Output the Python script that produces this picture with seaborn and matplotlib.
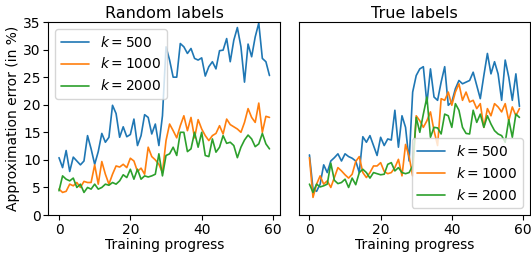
import numpy as np
import pandas as pd
import matplotlib
matplotlib.use("Agg")
import matplotlib.pyplot as plt
import seaborn as sns

steps = list(range(60))
k_labels = ["$k = 500$", "$k = 1000$", "$k = 2000$"]

rand_k500 = [10.4, 8.6, 11.7, 7.9, 10.5, 9.8, 9.1, 9.8, 14.4, 12.0,
             9.2, 11.5, 14.8, 13.2, 14.1, 19.9, 18.4, 14.1, 16.0, 14.2,
             14.6, 17.4, 12.6, 14.4, 18.2, 17.7, 14.7, 16.5, 12.6, 18.0,
             30.5, 28.1, 25.0, 25.0, 31.1, 30.5, 29.3, 30.2, 28.4, 28.1,
             28.5, 25.2, 26.9, 27.8, 26.5, 29.8, 29.9, 32.0, 27.8, 31.7,
             34.0, 30.5, 24.1, 31.0, 28.7, 32.3, 34.8, 28.4, 27.8, 25.3]
rand_k1000 = [4.7, 4.1, 4.3, 5.6, 5.3, 5.9, 5.0, 6.1, 5.9, 5.9,
              9.1, 5.6, 9.7, 7.4, 5.6, 7.4, 8.9, 8.7, 9.2, 8.6,
              10.3, 9.8, 7.9, 8.5, 7.4, 12.3, 10.6, 10.0, 9.2, 7.7,
              13.5, 16.5, 15.3, 14.0, 16.2, 18.0, 15.3, 17.7, 14.0, 17.3,
              15.6, 14.4, 13.5, 14.4, 14.8, 16.2, 14.7, 17.4, 16.4, 16.0,
              15.6, 15.0, 16.8, 19.3, 17.7, 16.8, 20.3, 15.0, 17.9, 17.7]
rand_k2000 = [4.4, 7.1, 6.5, 6.2, 6.7, 5.0, 5.6, 4.1, 5.0, 4.7,
              5.6, 4.7, 5.0, 5.6, 5.4, 5.9, 5.6, 6.2, 7.3, 6.8,
              8.3, 6.5, 8.3, 6.5, 7.1, 6.9, 7.1, 7.4, 11.1, 7.1,
              10.8, 11.1, 12.3, 10.8, 15.0, 15.0, 11.5, 12.0, 15.0, 12.3,
              15.0, 10.8, 10.6, 13.8, 11.4, 12.3, 14.4, 13.0, 13.2, 12.6,
              10.4, 12.3, 13.6, 14.5, 13.8, 12.4, 12.9, 14.8, 12.9, 12.0]

true_k500 = [10.9, 4.7, 4.3, 5.6, 9.1, 7.7, 9.8, 10.4, 11.1, 9.8,
             11.1, 10.6, 10.3, 9.8, 7.7, 14.2, 13.2, 14.4, 12.6, 10.8,
             14.1, 12.6, 13.8, 13.6, 19.0, 12.3, 18.0, 15.9, 9.8, 22.3,
             25.3, 26.5, 26.9, 20.2, 26.5, 21.4, 20.8, 24.1, 26.9, 19.9,
             20.5, 22.9, 24.4, 23.8, 24.1, 24.4, 25.9, 23.5, 21.1, 25.3,
             29.3, 25.6, 27.8, 25.6, 20.8, 28.1, 25.0, 20.8, 25.6, 19.7]
true_k1000 = [10.4, 3.2, 5.6, 7.1, 5.6, 6.2, 5.0, 6.8, 8.6, 8.0,
              7.3, 6.7, 7.4, 9.7, 10.6, 7.7, 6.8, 7.7, 8.9, 8.9,
              9.5, 7.9, 7.5, 7.7, 8.6, 10.1, 7.1, 12.8, 10.6, 7.1,
              18.0, 17.1, 15.9, 17.1, 18.7, 15.3, 12.6, 21.1, 20.8, 22.3,
              19.9, 22.3, 23.8, 20.8, 22.3, 20.5, 20.8, 19.3, 20.2, 15.9,
              19.3, 18.0, 20.2, 19.6, 18.7, 20.2, 17.1, 19.6, 18.0, 19.3]
true_k2000 = [5.6, 4.1, 5.6, 5.1, 5.3, 5.6, 9.4, 6.3, 5.7, 5.9,
              6.5, 5.0, 6.7, 5.5, 7.7, 8.3, 7.7, 6.7, 7.7, 7.5,
              7.3, 7.4, 9.2, 9.5, 8.0, 8.6, 7.7, 7.5, 7.7, 8.9,
              17.7, 15.0, 18.3, 21.4, 14.1, 15.9, 15.8, 14.7, 18.3, 18.0,
              15.9, 20.2, 19.0, 15.9, 14.8, 14.7, 19.0, 16.8, 18.3, 15.9,
              18.0, 16.5, 15.3, 14.7, 14.4, 13.2, 17.3, 14.1, 18.3, 17.7]


def make_df(series):
    frames = []
    for lab, vals in zip(k_labels, series):
        frames.append(pd.DataFrame({"step": steps, "err": vals, "k": lab}))
    return pd.concat(frames, ignore_index=True)


df_rand = make_df([rand_k500, rand_k1000, rand_k2000])
df_true = make_df([true_k500, true_k1000, true_k2000])

sns.set_style("ticks")
plt.rcParams["font.family"] = ["DejaVu Sans"]
plt.rcParams["axes.edgecolor"] = "black"
plt.rcParams["xtick.color"] = "black"
plt.rcParams["ytick.color"] = "black"
plt.rcParams["text.color"] = "black"
plt.rcParams["axes.labelcolor"] = "black"

palette = ["#1f77b4", "#ff7f0e", "#2ca02c"]

fig = plt.figure(figsize=(5.31, 2.56), dpi=100)
ax1 = fig.add_axes([0.0913, 0.160, 0.436, 0.754])
ax2 = fig.add_axes([0.563, 0.160, 0.435, 0.754], sharey=ax1)

for ax, df, title, loc in [(ax1, df_rand, "Random labels", "upper left"),
                           (ax2, df_true, "True labels", "lower right")]:
    sns.lineplot(data=df, x="step", y="err", hue="k", palette=palette,
                 ax=ax, linewidth=1.2)
    ax.set_title(title, fontsize=11.5, pad=3)
    ax.set_xlabel("Training progress", fontsize=10, labelpad=1)
    ax.set_xticks([0, 20, 40, 60])
    ax.tick_params(labelsize=10, length=3.5, pad=2)
    leg = ax.legend(loc=loc, fontsize=10, title=None)
    for sp in ax.spines.values():
        sp.set_linewidth(0.8)

ax1.set_ylim(0, 35)
ax1.set_yticks([0, 5, 10, 15, 20, 25, 30, 35])
ax1.set_ylabel("Approximation error (in %)", fontsize=10, labelpad=2)
ax2.set_ylabel("")
ax2.tick_params(axis="y", left=False, labelleft=False)

fig.savefig("out.png", dpi=100)
